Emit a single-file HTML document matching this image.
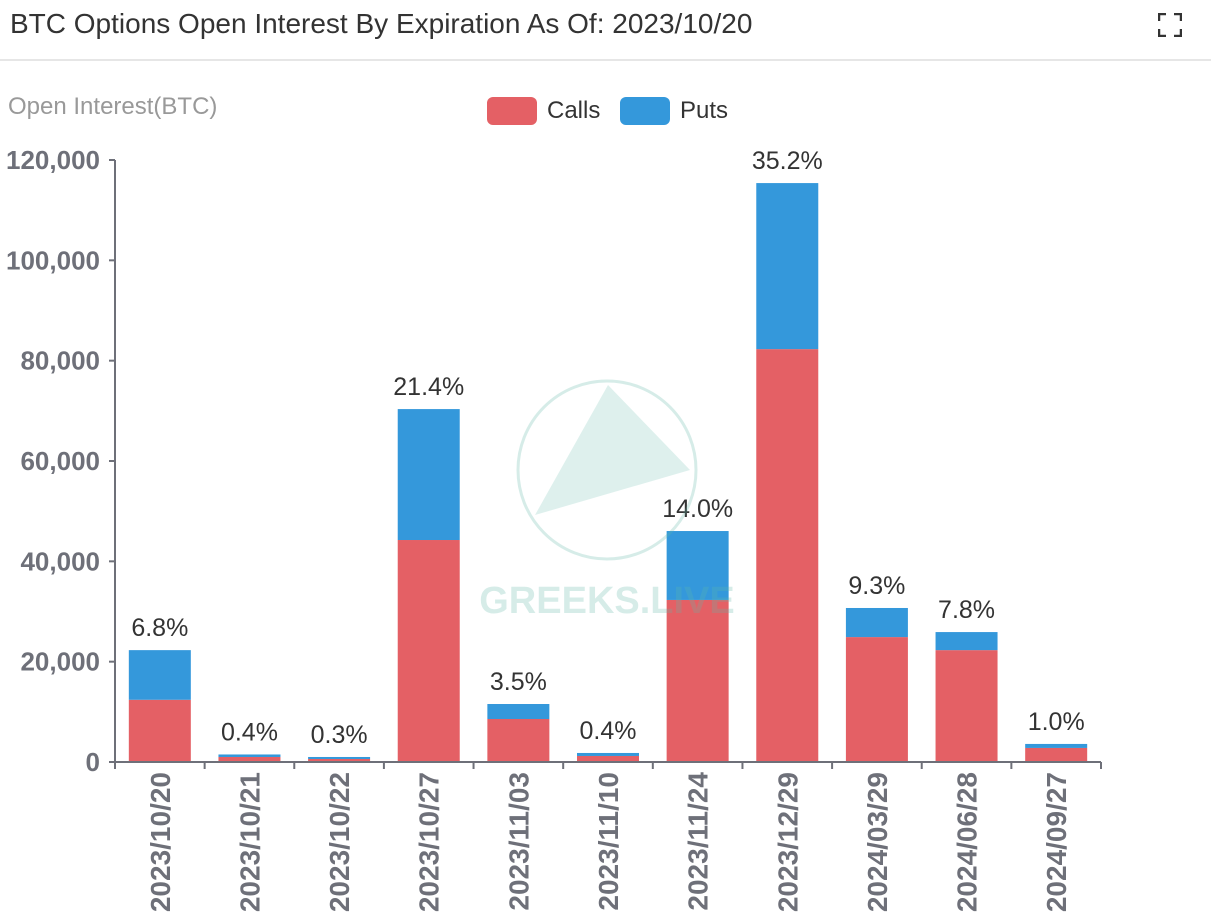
<!DOCTYPE html>
<html><head><meta charset="utf-8">
<style>
html,body{margin:0;padding:0;background:#fff;width:1211px;height:924px;overflow:hidden;font-family:"Liberation Sans",Arial,sans-serif}
#title{position:absolute;left:10px;top:8px;font-size:28px;color:#333}
#hr{position:absolute;left:0;top:59px;width:1211px;height:2px;background:#e6e6e6}
#fs{position:absolute;left:1158px;top:13px;width:24px;height:24px}
svg{position:absolute;left:0;top:0}
</style></head><body>
<div id="title">BTC Options Open Interest By Expiration As Of: 2023/10/20</div>
<div id="hr"></div>
<svg id="fs" viewBox="0 0 24 24" width="24" height="24">
<path d="M1 8V1h7M16 1h7v7M23 16v7h-7M8 23H1v-7" fill="none" stroke="#333" stroke-width="2.5"/>
</svg>
<svg id="chart" width="1211" height="924"></svg>
<script>
const categories=["2023/10/20","2023/10/21","2023/10/22","2023/10/27","2023/11/03","2023/11/10","2023/11/24","2023/12/29","2024/03/29","2024/06/28","2024/09/27"];
const calls=[12400,1000,600,44250,8570,1200,32300,82300,24900,22300,2800];
const puts=[9900,500,400,26100,2990,600,13740,33100,5800,3600,800];
const pctLabels=["6.8%","0.4%","0.3%","21.4%","3.5%","0.4%","14.0%","35.2%","9.3%","7.8%","1.0%"];
const yTicks=[0,20000,40000,60000,80000,100000,120000];
const NS="http://www.w3.org/2000/svg";
const svg=document.getElementById('chart');
const x0=115,x1=1101,yBase=762,yTop=160,yMax=120000;
const bw=(x1-x0)/categories.length;
function xC(i){return x0+bw*(i+0.5);}
function yS(v){return yBase-(v/yMax)*(yBase-yTop);}
function el(t,a,txt){const e=document.createElementNS(NS,t);for(const k in a)e.setAttribute(k,a[k]);if(txt!=null)e.textContent=txt;svg.appendChild(e);return e;}
const wm=el('g',{opacity:0.25});


svg.removeChild(wm);
wm.innerHTML='<circle cx="607" cy="470" r="89" fill="none" stroke="#5fb8a8" stroke-width="3"/><path d="M608 385 L535 515 L690 470 Z" fill="#5fb8a8" opacity="0.8"/><text x="607" y="613" text-anchor="middle" font-family="Liberation Sans" font-weight="bold" font-size="38" fill="#5fb8a8">GREEKS.LIVE</text>';
let t=el('text',{x:8,y:114,'font-size':24,fill:'#999'},'Open Interest(BTC)');


let ax=el('line',{x1:x0,y1:yTop,x2:x0,y2:yBase,stroke:'#6e7079','stroke-width':2});


yTicks.forEach(v=>{
 const y=yS(v);
 el('line',{x1:x0-6,y1:y,x2:x0,y2:y,stroke:'#6e7079','stroke-width':2});
 const l=el('text',{x:x0-15,y:y+9,'text-anchor':'end','font-size':26,'font-weight':'bold',fill:'#6e7079'},v.toLocaleString('en-US'));
 
 
});
categories.forEach((c,i)=>{
 const cx=xC(i),w=62;
 const r1=el('rect',{x:cx-w/2,y:yS(calls[i]),width:w,height:yBase-yS(calls[i]),fill:'#e46065'});
 
 
 const tot=calls[i]+puts[i];
 const r2=el('rect',{x:cx-w/2,y:yS(tot),width:w,height:yS(calls[i])-yS(tot),fill:'#3498db'});
 
 
 const p=el('text',{x:cx,y:yS(tot)-14,'text-anchor':'middle','font-size':25,fill:'#333'},pctLabels[i]);
 
 
});
svg.appendChild(wm);
ax=el('line',{x1:x0,y1:yBase,x2:x1,y2:yBase,stroke:'#6e7079','stroke-width':2});


for(let i=0;i<=categories.length;i++){const x=x0+bw*i;el('line',{x1:x,y1:yBase,x2:x,y2:yBase+7,stroke:'#6e7079','stroke-width':2});}
categories.forEach((c,i)=>{
 const cx=xC(i);
 const l=el('text',{x:0,y:0,transform:`translate(${cx+10},${yBase+10}) rotate(-90)`,'text-anchor':'end','font-size':28,'font-weight':'bold',fill:'#6e7079'},c);
 
 
});
let lg=el('rect',{x:487,y:97,width:50,height:28,rx:6,fill:'#e46065'});


el('text',{x:547,y:118,'font-size':24,fill:'#333'},'Calls');
lg=el('rect',{x:620,y:97,width:50,height:28,rx:6,fill:'#3498db'});


el('text',{x:680,y:118,'font-size':24,fill:'#333'},'Puts');
</script>
</body></html>
